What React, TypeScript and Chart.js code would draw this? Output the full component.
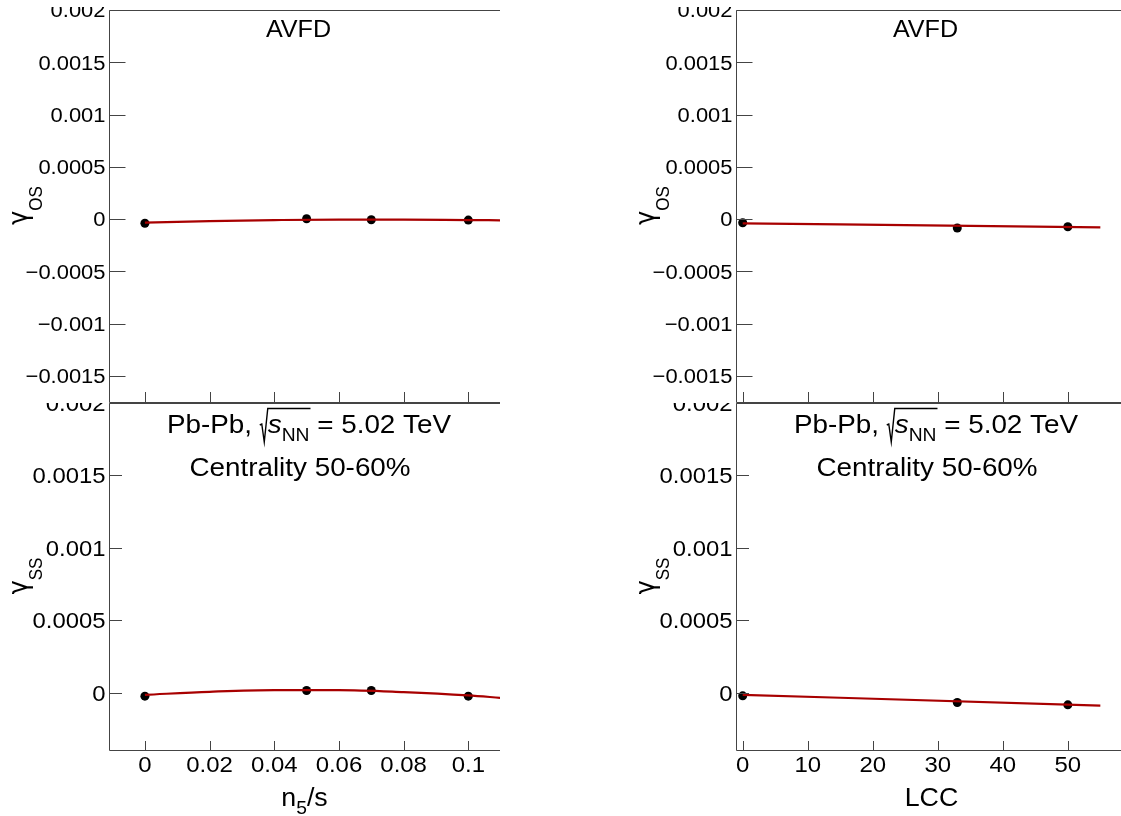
import React, { useEffect, useRef } from "react";
import { Chart, registerables } from "chart.js";

Chart.register(...registerables);

// ---------------- data ----------------
const N5_X = [0, 0.05, 0.07, 0.1];
const GAMMA_OS_N5 = [-0.00004, 0.000003, -0.000007, -0.00001];
const GAMMA_SS_N5 = [-0.000025, 0.000014, 0.000014, -0.000025];
const N5_FIT_X = [0, 0.02, 0.04, 0.06, 0.08, 0.1, 0.11];
const GAMMA_OS_N5_FIT = [-0.000034, -0.000019, -0.00001, -0.000005, -0.000005, -0.00001, -0.000012];
const GAMMA_SS_N5_FIT = [-0.000016, 0.000005, 0.000017, 0.000017, 0.000003, -0.00002, -0.000037];

const LCC_X = [0, 33, 50];
const GAMMA_OS_LCC = [-0.000035, -0.000086, -0.000074];
const GAMMA_SS_LCC = [-0.000023, -0.000069, -0.000085];
const LCC_FIT_X = [0, 55];
const GAMMA_OS_LCC_FIT = [-0.000041, -0.00008];
const GAMMA_SS_LCC_FIT = [-0.000016, -0.00009];

// ---------------- ticks ----------------
const N5_TICKS = [0, 0.02, 0.04, 0.06, 0.08, 0.1];
const N5_TICK_LABELS = ["0", "0.02", "0.04", "0.06", "0.08", "0.1"];
const LCC_TICKS = [0, 10, 20, 30, 40, 50];
const LCC_TICK_LABELS = ["0", "10", "20", "30", "40", "50"];
const Y_TICKS_TOP = [-0.0015, -0.001, -0.0005, 0, 0.0005, 0.001, 0.0015, 0.002];
const Y_TICK_LABELS_TOP = ["\u22120.0015", "\u22120.001", "\u22120.0005", "0", "0.0005", "0.001", "0.0015", "0.002"];
const Y_TICKS_BOTTOM = [0, 0.0005, 0.001, 0.0015, 0.002];
const Y_TICK_LABELS_BOTTOM = ["0", "0.0005", "0.001", "0.0015", "0.002"];

const N5_RANGE = [-0.0111, 0.1098];
const LCC_RANGE = [-1.03, 59.1];
const Y_RANGE_TOP = [-0.00176, 0.002];
const Y_RANGE_BOTTOM = [-0.000404, 0.002];

// ---------------- text helpers ----------------
const FONT = '"Liberation Sans", Arial, Helvetica, sans-serif';
const GREEK_FONT = '"DejaVu Sans", "Liberation Sans", sans-serif';
const SX = 1.07;
const FRAME = "#444";
const FIT_RED = "#a80000";

type Seg = { t: string; size: number; italic?: boolean; dy?: number };

function fontOf(s: Seg) {
  return `${s.italic ? "italic " : ""}${s.size}px ${FONT}`;
}
function segW(ctx: CanvasRenderingContext2D, s: Seg) {
  ctx.font = fontOf(s);
  return ctx.measureText(s.t).width * SX;
}
function widthSegs(ctx: CanvasRenderingContext2D, segs: Seg[]) {
  return segs.reduce((a, s) => a + segW(ctx, s), 0);
}
function drawSegs(ctx: CanvasRenderingContext2D, segs: Seg[], x: number, y: number) {
  let cx = x;
  for (const s of segs) {
    const w = segW(ctx, s);
    ctx.save();
    ctx.translate(cx, y + (s.dy || 0));
    ctx.scale(SX, 1);
    ctx.font = fontOf(s);
    ctx.textAlign = "left";
    ctx.textBaseline = "alphabetic";
    ctx.fillStyle = "#000";
    ctx.fillText(s.t, 0, 0);
    ctx.restore();
    cx += w;
  }
  return cx;
}
function drawCentered(ctx: CanvasRenderingContext2D, segs: Seg[], cx: number, y: number) {
  const w = widthSegs(ctx, segs);
  drawSegs(ctx, segs, cx - w / 2, y);
}
function drawRight(ctx: CanvasRenderingContext2D, segs: Seg[], rx: number, y: number) {
  const w = widthSegs(ctx, segs);
  drawSegs(ctx, segs, rx - w, y);
}

function drawPbPb(ctx: CanvasRenderingContext2D, cx: number, b: number) {
  const A: Seg[] = [{ t: "Pb-Pb, ", size: 26 }];
  const B: Seg[] = [
    { t: "s", size: 26, italic: true },
    { t: "NN", size: 18, dy: 8 },
  ];
  const C: Seg[] = [{ t: " = 5.02 TeV", size: 26 }];
  const RW = 8;
  const wA = widthSegs(ctx, A);
  const wB = widthSegs(ctx, B);
  const wC = widthSegs(ctx, C);
  const total = wA + RW + wB + wC;
  let x = cx - total / 2;
  drawSegs(ctx, A, x, b);
  x += wA;
  ctx.save();
  ctx.strokeStyle = "#000";
  ctx.lineWidth = 1.4;
  ctx.beginPath();
  ctx.moveTo(x, b - 8);
  ctx.lineTo(x + 2, b - 9);
  ctx.lineTo(x + 4.5, b + 9);
  ctx.lineTo(x + RW, b - 24.5);
  ctx.lineTo(x + RW + wB + 1, b - 24.5);
  ctx.stroke();
  ctx.restore();
  x += RW;
  drawSegs(ctx, B, x, b);
  x += wB;
  drawSegs(ctx, C, x, b);
}

function drawYTitle(ctx: CanvasRenderingContext2D, sub: string, xBase: number, yCenter: number) {
  const mainFont = `24px ${GREEK_FONT}`;
  const s: Seg = { t: sub, size: 17 };
  ctx.font = mainFont;
  const w1 = ctx.measureText("\u03b3").width;
  ctx.font = fontOf(s);
  const w2 = ctx.measureText(sub).width;
  const L = w1 + w2;
  ctx.save();
  ctx.translate(xBase, yCenter + L / 2);
  ctx.rotate(-Math.PI / 2);
  ctx.scale(1, SX);
  ctx.fillStyle = "#000";
  ctx.textBaseline = "alphabetic";
  ctx.font = mainFont;
  ctx.fillText("\u03b3", 0, 0);
  ctx.font = fontOf(s);
  ctx.fillText(sub, w1, 14);
  ctx.restore();
}

// ---------------- panel ----------------
interface PanelProps {
  left: number;
  top: number;
  width: number;
  height: number;
  padTop: number;
  padBottom: number;
  xAxisHeight: number;
  xRange: number[];
  yRange: number[];
  xTicks: number[];
  xTickLabels: string[];
  showXLabels: boolean;
  yTicks: number[];
  yTickLabels: string[];
  px: number[];
  py: number[];
  fx: number[];
  fy: number[];
  yTickLen: number;
  xTickLen: number;
  yFont: number;
  xFont: number;
  ySub: string;
  xTitle: Seg[] | null;
  kind: "avfd" | "pbpb";
}

function Panel(p: PanelProps) {
  const ref = useRef<HTMLCanvasElement | null>(null);
  useEffect(() => {
    if (!ref.current) return;
    const plugin = {
      id: "rootFrame",
      afterDraw(chart: any) {
        const ctx: CanvasRenderingContext2D = chart.ctx;
        const a = chart.chartArea;
        const xs = chart.scales.x;
        const ys = chart.scales.y;
        ctx.save();
        ctx.strokeStyle = FRAME;
        ctx.lineWidth = 1;
        const L = Math.round(a.left) + 0.5;
        const T = Math.round(a.top) + 0.5;
        const B = Math.round(a.bottom) - 0.5;
        const R = a.right + 2;
        ctx.beginPath();
        ctx.moveTo(R, T);
        ctx.lineTo(L, T);
        ctx.lineTo(L, B);
        ctx.lineTo(R, B);
        ctx.stroke();
        // y ticks + labels
        ys.ticks.forEach((t: any, i: number) => {
          const yy = ys.getPixelForValue(t.value);
          const y = Math.round(yy) + 0.5;
          ctx.beginPath();
          ctx.moveTo(L, y);
          ctx.lineTo(L + p.yTickLen, y);
          ctx.stroke();
          drawRight(ctx, [{ t: p.yTickLabels[i], size: p.yFont }], a.left - 3.5, yy + 0.36 * p.yFont);
        });
        // x ticks + labels
        xs.ticks.forEach((t: any, i: number) => {
          const xx = xs.getPixelForValue(t.value);
          const x = Math.round(xx) + 0.5;
          ctx.beginPath();
          ctx.moveTo(x, B);
          ctx.lineTo(x, B - p.xTickLen);
          ctx.stroke();
          if (p.showXLabels) {
            drawCentered(ctx, [{ t: p.xTickLabels[i], size: p.xFont }], xx, a.bottom + 20.7);
          }
        });
        // texts
        if (p.kind === "avfd") {
          drawCentered(ctx, [{ t: "AVFD", size: 23.5 }], a.left + 189.5, a.top + 27);
        } else {
          drawPbPb(ctx, a.left + 200, a.top + 30);
          drawCentered(ctx, [{ t: "Centrality 50-60%", size: 26 }], a.left + 191, a.top + 72.5);
        }
        // titles
        drawYTitle(ctx, p.ySub, a.left - 82, (a.top + a.bottom) / 2 - 1);
        if (p.xTitle) {
          drawCentered(ctx, p.xTitle, (a.left + a.right) / 2, a.bottom + 55);
        }
        ctx.restore();
      },
    };

    const chart = new Chart(ref.current, {
      type: "scatter",
      data: {
        datasets: [
          {
            type: "line",
            data: p.fx.map((x, i) => ({ x, y: p.fy[i] })),
            borderColor: FIT_RED,
            borderWidth: 2.2,
            pointRadius: 0,
            fill: false,
            tension: 0.3,
            cubicInterpolationMode: "monotone",
          } as any,
          {
            type: "scatter",
            data: p.px.map((x, i) => ({ x, y: p.py[i] })),
            backgroundColor: "#000",
            borderColor: "#000",
            borderWidth: 0,
            pointRadius: 4.5,
            showLine: false,
          } as any,
        ],
      },
      options: {
        animation: false,
        responsive: false,
        devicePixelRatio: 1,
        events: [],
        layout: { autoPadding: false, padding: { top: p.padTop, bottom: p.padBottom, left: 0, right: 0 } },
        plugins: { legend: { display: false }, tooltip: { enabled: false }, title: { display: false } },
        scales: {
          x: {
            type: "linear",
            min: p.xRange[0],
            max: p.xRange[1],
            ticks: { display: false },
            grid: { display: false },
            border: { display: false },
            afterBuildTicks: (s: any) => {
              s.ticks = p.xTicks.map((v) => ({ value: v }));
            },
            afterFit: (s: any) => {
              s.height = p.xAxisHeight;
              s.paddingLeft = 0;
              s.paddingRight = 0;
            },
          },
          y: {
            type: "linear",
            min: p.yRange[0],
            max: p.yRange[1],
            ticks: { display: false },
            grid: { display: false },
            border: { display: false },
            afterBuildTicks: (s: any) => {
              s.ticks = p.yTicks.map((v) => ({ value: v }));
            },
            afterFit: (s: any) => {
              s.width = 109;
              s.paddingTop = 0;
              s.paddingBottom = 0;
            },
          },
        },
      } as any,
      plugins: [plugin],
    });
    return () => chart.destroy();
  }, []);
  return (
    <canvas
      ref={ref}
      width={p.width}
      height={p.height}
      style={{ position: "absolute", left: p.left, top: p.top, width: p.width, height: p.height }}
    />
  );
}

export default function App() {
  const topCommon = {
    top: 7,
    width: 500,
    height: 397,
    padTop: 3,
    padBottom: 1,
    xAxisHeight: 0,
    yRange: Y_RANGE_TOP,
    yTicks: Y_TICKS_TOP,
    yTickLabels: Y_TICK_LABELS_TOP,
    showXLabels: false,
    yTickLen: 16,
    xTickLen: 10.5,
    yFont: 20.5,
    xFont: 22.4,
    ySub: "OS",
    xTitle: null,
    kind: "avfd" as const,
  };
  const bottomCommon = {
    top: 403,
    width: 500,
    height: 413,
    padTop: 0,
    padBottom: 0,
    xAxisHeight: 65,
    yRange: Y_RANGE_BOTTOM,
    yTicks: Y_TICKS_BOTTOM,
    yTickLabels: Y_TICK_LABELS_BOTTOM,
    showXLabels: true,
    yTickLen: 12.5,
    xTickLen: 9.5,
    yFont: 22.3,
    xFont: 22.4,
    ySub: "SS",
    kind: "pbpb" as const,
  };
  return (
    <div
      style={{
        position: "fixed",
        left: 0,
        top: 0,
        width: 1121,
        height: 816,
        overflow: "hidden",
        background: "#fff",
      }}
    >
      <Panel
        {...topCommon}
        left={0}
        xRange={N5_RANGE}
        xTicks={N5_TICKS}
        xTickLabels={N5_TICK_LABELS}
        px={N5_X}
        py={GAMMA_OS_N5}
        fx={N5_FIT_X}
        fy={GAMMA_OS_N5_FIT}
      />
      <Panel
        {...topCommon}
        left={627}
        xRange={LCC_RANGE}
        xTicks={LCC_TICKS}
        xTickLabels={LCC_TICK_LABELS}
        px={LCC_X}
        py={GAMMA_OS_LCC}
        fx={LCC_FIT_X}
        fy={GAMMA_OS_LCC_FIT}
      />
      <Panel
        {...bottomCommon}
        left={0}
        xRange={N5_RANGE}
        xTicks={N5_TICKS}
        xTickLabels={N5_TICK_LABELS}
        px={N5_X}
        py={GAMMA_SS_N5}
        fx={N5_FIT_X}
        fy={GAMMA_SS_N5_FIT}
        xTitle={[
          { t: "n", size: 25 },
          { t: "5", size: 18, dy: 8 },
          { t: "/s", size: 25 },
        ]}
      />
      <Panel
        {...bottomCommon}
        left={627}
        xRange={LCC_RANGE}
        xTicks={LCC_TICKS}
        xTickLabels={LCC_TICK_LABELS}
        px={LCC_X}
        py={GAMMA_SS_LCC}
        fx={LCC_FIT_X}
        fy={GAMMA_SS_LCC_FIT}
        xTitle={[{ t: "LCC", size: 25 }]}
      />
    </div>
  );
}
